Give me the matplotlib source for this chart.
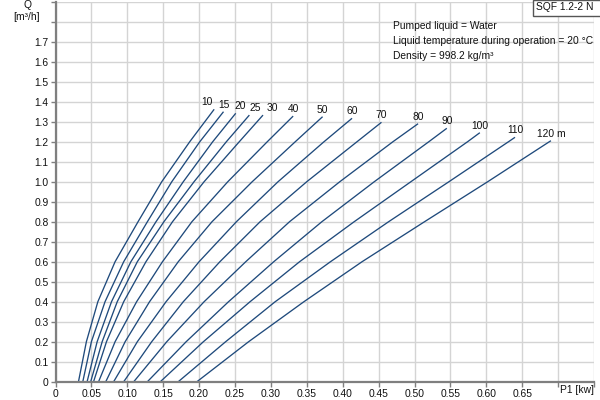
import matplotlib
matplotlib.use("Agg")
import matplotlib.pyplot as plt
from matplotlib.patches import Rectangle

plt.rcParams['font.family'] = ['Liberation Sans', 'DejaVu Sans']

# pumping heads (m), one curve each
heads = [10, 15, 20, 25, 30, 40, 50, 60, 70, 80, 90, 100, 110, 120]

q_grid = [0.0, 0.2, 0.4, 0.6, 0.8, 1.0, 1.2]

# P1 [kW] at q_grid for each head
p_h10 = [0.032, 0.043, 0.059, 0.083, 0.115, 0.148, 0.187]
p_h15 = [0.038, 0.050, 0.069, 0.095, 0.128, 0.162, 0.201]
p_h20 = [0.044, 0.058, 0.078, 0.105, 0.140, 0.178, 0.219]
p_h25 = [0.049, 0.065, 0.086, 0.114, 0.151, 0.193, 0.238]
p_h30 = [0.053, 0.071, 0.095, 0.126, 0.163, 0.207, 0.256]
p_h40 = [0.060, 0.083, 0.113, 0.149, 0.190, 0.240, 0.295]
p_h50 = [0.070, 0.097, 0.131, 0.171, 0.218, 0.274, 0.334]
p_h60 = [0.081, 0.114, 0.154, 0.200, 0.252, 0.310, 0.374]
p_h70 = [0.095, 0.134, 0.178, 0.229, 0.285, 0.350, 0.420]
p_h80 = [0.109, 0.155, 0.207, 0.265, 0.326, 0.396, 0.470]
p_h90 = [0.128, 0.182, 0.241, 0.304, 0.371, 0.444, 0.520]
p_h100 = [0.146, 0.206, 0.271, 0.340, 0.416, 0.495, 0.574]
p_h110 = [0.171, 0.237, 0.306, 0.383, 0.464, 0.548, 0.631]
p_h120 = [0.197, 0.269, 0.346, 0.427, 0.514, 0.602]

# end point of every curve
p_end = [0.221, 0.234, 0.251, 0.270, 0.289, 0.331, 0.372, 0.413, 0.454, 0.505, 0.545, 0.591, 0.640, 0.690]
q_end = [1.362, 1.350, 1.342, 1.333, 1.333, 1.328, 1.325, 1.317, 1.297, 1.290, 1.267, 1.245, 1.222, 1.205]

p_curves = [p_h10, p_h15, p_h20, p_h25, p_h30, p_h40, p_h50, p_h60, p_h70,
            p_h80, p_h90, p_h100, p_h110, p_h120]

x_ticks = [0, 0.05, 0.10, 0.15, 0.20, 0.25, 0.30, 0.35, 0.40, 0.45, 0.50, 0.55, 0.60, 0.65, 0.70, 0.75]
x_labels = ["0", "0.05", "0.10", "0.15", "0.20", "0.25", "0.30", "0.35", "0.40", "0.45",
            "0.50", "0.55", "0.60", "0.65", "", ""]
y_ticks = [0, 0.1, 0.2, 0.3, 0.4, 0.5, 0.6, 0.7, 0.8, 0.9, 1.0, 1.1, 1.2, 1.3, 1.4, 1.5, 1.6, 1.7, 1.8, 1.9]
y_labels = ["0", "0.1", "0.2", "0.3", "0.4", "0.5", "0.6", "0.7", "0.8", "0.9", "1.0",
            "1.1", "1.2", "1.3", "1.4", "1.5", "1.6", "1.7", "", ""]

info_lines = ["Pumped liquid = Water",
              "Liquid temperature during operation = 20 °C",
              "Density = 998.2 kg/m³"]

# label nudges (points) for the crowded labels on the left
label_dx = [-5, 0, 3, 4.5, 7, 0, 0, 0, 0, 0, 0, 0, 0, 0]

W, H = 600, 400
fig = plt.figure(figsize=(6, 4), dpi=100)
ax = fig.add_axes([55.5 / W, 18.3 / H, 538.5 / W, 380 / H])

line_col = '#1f4a7c'
txt_col = '#111111'
fs = 7.4

for i in range(len(heads)):
    p = p_curves[i] + [p_end[i]]
    q = q_grid[:len(p_curves[i])] + [q_end[i]]
    ax.plot(p, q, color=line_col, lw=0.95, solid_capstyle='butt', solid_joinstyle='round')
    lab = str(heads[i]) + (" m" if i == len(heads) - 1 else "")
    ax.annotate(lab, xy=(p_end[i], q_end[i]), xytext=(label_dx[i], 4.9),
                textcoords='offset points', ha='center', va='center',
                fontsize=fs, color=txt_col)

ax.set_xlim(0, 0.75)
ax.set_ylim(0, 1.9)
ax.set_xticks(x_ticks)
ax.set_xticklabels(x_labels)
ax.set_yticks(y_ticks)
ax.set_yticklabels(y_labels)
ax.grid(True, color='#d4d4d4', lw=1.0)
ax.set_axisbelow(True)
ax.tick_params(direction='out', length=3.5, width=1, color='#7f7f7f',
               labelsize=fs, labelcolor=txt_col, pad=1.5)
for s in ['top', 'right']:
    ax.spines[s].set_visible(False)
for s in ['left', 'bottom']:
    ax.spines[s].set_color('#7f7f7f')
    ax.spines[s].set_linewidth(1.6)

# axis titles
fig.text(27 / W, 1 - 5 / H, "Q", ha='center', va='center', fontsize=fs, color=txt_col)
fig.text(27 / W, 1 - 17 / H, "[m³/h]", ha='center', va='center', fontsize=fs, color=txt_col)
fig.text(594 / W, 1 - 390 / H, "P1 [kw]", ha='right', va='center', fontsize=fs, color=txt_col)

# liquid info
for k, t in enumerate(info_lines):
    fig.text(393 / W, 1 - (26 + 15 * k) / H, t, ha='left', va='center', fontsize=fs, color=txt_col)

# pump name box
fig.patches.append(Rectangle((533 / W, 1 - 15.5 / H), 70 / W, 15.5 / H, transform=fig.transFigure,
                             fc='white', ec='#555555', lw=1.0))
fig.text(565 / W, 1 - 7.5 / H, "SQF 1.2-2 N", ha='center', va='center', fontsize=fs, color=txt_col)

fig.savefig("out.png", dpi=100)
